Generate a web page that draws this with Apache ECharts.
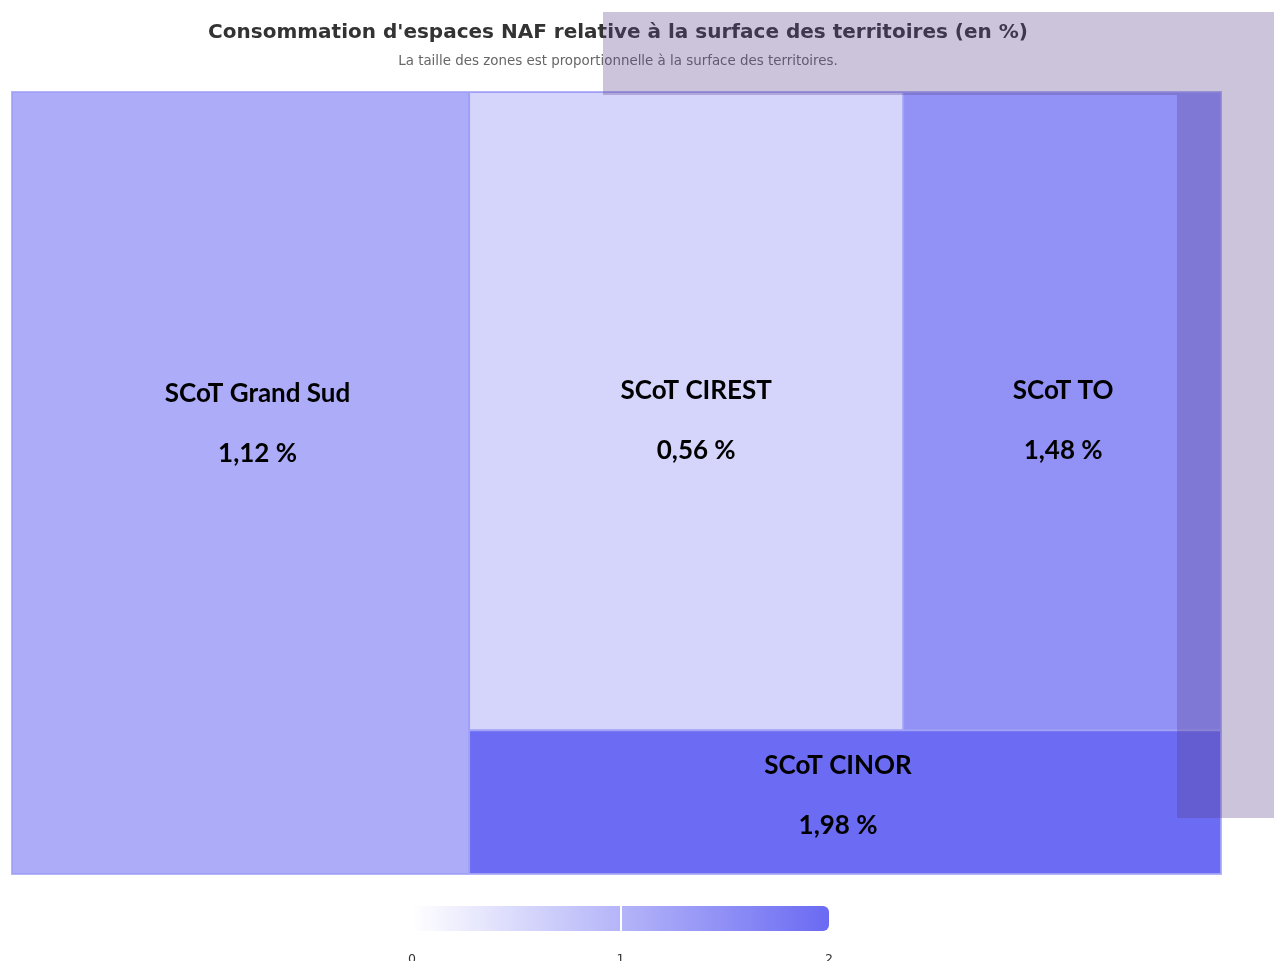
<!DOCTYPE html>
<html>
<head>
<meta charset="utf-8">
<script src="https://cdn.jsdelivr.net/npm/echarts@6/dist/echarts.min.js"></script>
<style>
html,body{margin:0;padding:0;background:#fff;}
#chart{width:1274px;height:961px;}
</style>
</head>
<body>
<div id="chart"></div>
<script>
// ---- data ----
const territories = ['SCoT Grand Sud', 'SCoT CIREST', 'SCoT TO', 'SCoT CINOR'];
const surfaces = [952, 738, 540, 288];          // relative surface -> size of zones
const rates = [1.12, 0.56, 1.48, 1.98];          // % NAF consumption -> colour
const colorTicks = [0, 1, 2];

// ---- styling: label nudges (px) from the default (top-centre) label spot ----
const labelNudge = {
  'SCoT Grand Sud': [17, 266],
  'SCoT CIREST': [10, 263],
  'SCoT TO': [1, 263],
  'SCoT CINOR': [-7, -1]
};

const fmt = v => v.toFixed(2).replace('.', ',') + ' %';
const treeData = territories.map((n, i) => ({
  name: n,
  value: [surfaces[i], rates[i]],
  label: { offset: labelNudge[n] }
}));

const chart = echarts.init(document.getElementById('chart'));
const richStyle = { fontSize: 26, fontWeight: 'bold', fontFamily: 'Lato', color: '#000', lineHeight: 60 };
const dim = 'rgba(88,65,135,0.31)';

chart.setOption({
  animation: false,
  title: {
    text: "Consommation d'espaces NAF relative à la surface des territoires (en %)",
    subtext: 'La taille des zones est proportionnelle à la surface des territoires.',
    left: 613,
    top: 18,
    textAlign: 'center',
    itemGap: 12,
    textStyle: { fontFamily: 'DejaVu Sans', fontSize: 20, fontWeight: 'bold', color: '#333' },
    subtextStyle: { fontFamily: 'DejaVu Sans', fontSize: 13.4, color: '#666' }
  },
  grid: { left: 412, top: 906, width: 417, height: 25, outerBoundsMode: 'none', containLabel: false },
  xAxis: {
    type: 'value', min: colorTicks[0], max: colorTicks[colorTicks.length - 1], interval: 1,
    axisLine: { show: false }, axisTick: { show: false }, splitLine: { show: false },
    axisLabel: { margin: 22, fontSize: 12.5, color: '#333', fontFamily: 'DejaVu Sans',
      formatter: v => colorTicks.includes(v) ? String(v) : '' }
  },
  yAxis: { type: 'category', data: [''], show: false },
  series: [
    {
      type: 'treemap',
      left: 11, top: 91, width: 1211, height: 784,
      roam: false, nodeClick: false,
      breadcrumb: { show: false },
      squareRatio: 1.1,
      sort: 'desc',
      levels: [{
        color: ['#ffffff', '#6a6af3'],
        colorMappingBy: 'value',
        visualDimension: 1,
        visualMin: 0,
        visualMax: 2
      }],
      itemStyle: { borderWidth: 1, borderColor: 'rgba(150,150,245,0.7)', gapWidth: 0 },
      label: {
        show: true,
        position: 'inside',
        formatter: p => '{n|' + p.name + '}\n{v|' + fmt(p.value[1]) + '}',
        rich: { n: richStyle, v: richStyle }
      },
      upperLabel: { show: false },
      emphasis: { disabled: true },
      data: treeData
    },
    {
      type: 'bar',
      data: [colorTicks[colorTicks.length - 1]],
      barWidth: 25,
      silent: true,
      itemStyle: {
        borderRadius: [0, 6, 6, 0],
        color: new echarts.graphic.LinearGradient(0, 0, 1, 0, [
          { offset: 0, color: '#ffffff' },
          { offset: 1, color: '#6a6af3' }
        ])
      },
      markLine: {
        silent: true, symbol: 'none',
        label: { show: false },
        lineStyle: { color: '#ffffff', width: 2, type: 'solid' },
        data: [{ xAxis: colorTicks[1] }]
      }
    }
  ],
  graphic: [
    { type: 'rect', z: 100, silent: true,
      shape: { x: 603, y: 12, width: 671, height: 83 }, style: { fill: dim } },
    { type: 'rect', z: 100, silent: true,
      shape: { x: 1177, y: 95, width: 97, height: 723 }, style: { fill: dim } }
  ]
});
</script>
</body>
</html>
